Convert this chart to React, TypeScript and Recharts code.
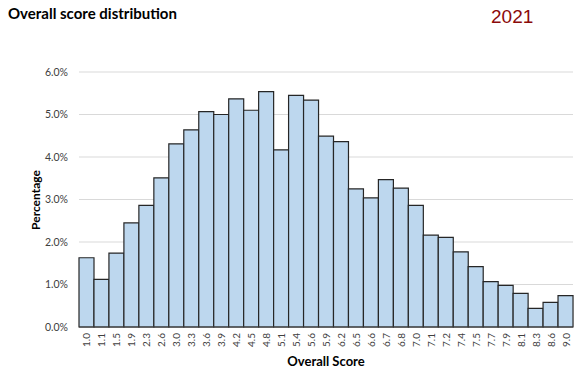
import React from 'react';
import { BarChart, Bar, XAxis, YAxis, CartesianGrid } from 'recharts';

const scores = ['1.0','1.1','1.5','1.9','2.3','2.6','3.0','3.3','3.6','3.9','4.2','4.5','4.8','5.1','5.4','5.6','5.9','6.2','6.5','6.6','6.7','6.8','7.0','7.1','7.2','7.4','7.5','7.7','7.9','8.1','8.3','8.6','9.0'];
const percentages = [1.63,1.12,1.74,2.45,2.86,3.51,4.31,4.64,5.07,5.00,5.37,5.10,5.54,4.17,5.45,5.34,4.49,4.36,3.25,3.04,3.47,3.27,2.86,2.16,2.11,1.77,1.42,1.07,0.98,0.79,0.44,0.58,0.74];
const yTicks = [0, 1, 2, 3, 4, 5, 6];

const data = scores.map((s, i) => ({ score: s, pct: percentages[i] }));

const font = 'Lato, "Open Sans", sans-serif';

const XTick = (props: any) => {
  const { x, y, payload } = props;
  const ty = y + 6;
  return (
    <text
      x={x}
      y={ty}
      transform={`rotate(-90, ${x}, ${ty})`}
      textAnchor="end"
      dominantBaseline="central"
      fontSize={10}
      fontFamily={font}
      fill="#404040"
    >
      {payload.value}
    </text>
  );
};

export default function App() {
  return (
    <div style={{ position: 'absolute', left: 0, top: 0, width: 579, height: 383, background: '#fff', fontFamily: font }}>
      <div style={{ position: 'absolute', left: 8, top: 4, fontSize: 15, lineHeight: '18px', fontWeight: 700, color: '#000', whiteSpace: 'nowrap' }}>
        Overall score distribution
      </div>
      <div style={{ position: 'absolute', left: 491, top: 6, fontSize: 19, fontFamily: '"Liberation Sans", Arial, sans-serif', color: '#8B0A0A' }}>
        2021
      </div>
      <div style={{ position: 'absolute', left: 35, top: 200, transform: 'translate(-50%, -50%) rotate(-90deg)', fontSize: 12, fontWeight: 700, color: '#000', whiteSpace: 'nowrap' }}>
        Percentage
      </div>
      <div style={{ position: 'absolute', left: 326, top: 361, transform: 'translate(-50%, -50%)', fontSize: 13, fontWeight: 700, color: '#000', whiteSpace: 'nowrap' }}>
        Overall Score
      </div>
      <BarChart
        width={579}
        height={383}
        data={data}
        margin={{ top: 72, right: 6, bottom: 0, left: 0 }}
        barCategoryGap={0}
        style={{ position: 'absolute', left: 0, top: 0 }}
      >
        <CartesianGrid horizontal vertical={false} stroke="#D9D9D9" strokeWidth={1} />
        <XAxis
          dataKey="score"
          interval={0}
          height={56}
          tick={<XTick />}
          tickLine={false}
          tickSize={0}
          tickMargin={0}
          axisLine={{ stroke: '#404040', strokeWidth: 1.2 }}
        />
        <YAxis
          width={79}
          domain={[0, 6]}
          ticks={yTicks}
          tickFormatter={(v: number) => `${v.toFixed(1)}%`}
          tickLine={false}
          tickSize={0}
          tickMargin={11}
          axisLine={false}
          tick={{ fontSize: 10.5, fontFamily: font, fill: '#404040' }}
        />
        <Bar dataKey="pct" fill="#BDD7EE" stroke="#262626" strokeWidth={1.2} isAnimationActive={false} />
      </BarChart>
    </div>
  );
}
